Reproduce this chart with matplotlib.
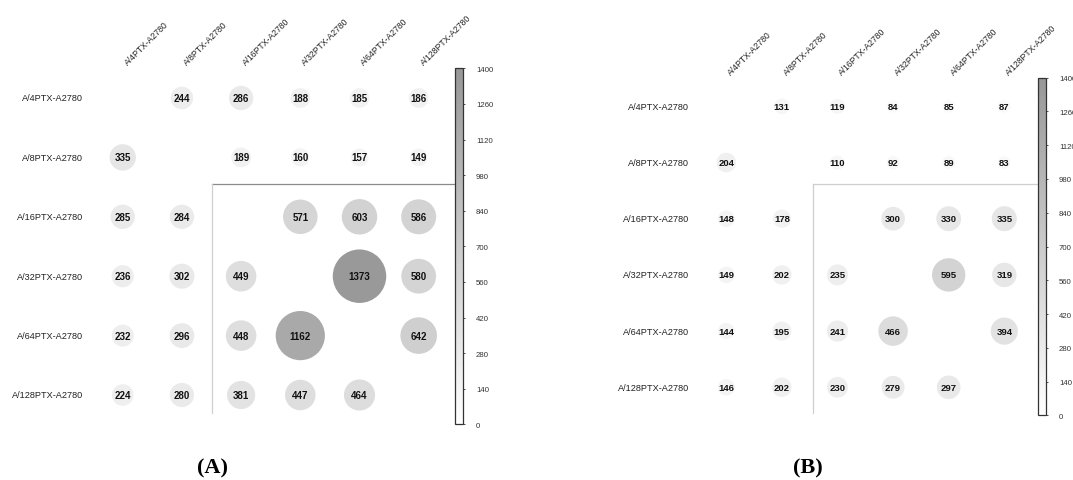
import numpy as np
import matplotlib
matplotlib.use("Agg")
import matplotlib.pyplot as plt
from matplotlib.colors import LinearSegmentedColormap, Normalize
from matplotlib.cm import ScalarMappable

plt.rcParams['font.family'] = ['Liberation Sans', 'DejaVu Sans']

# ---- data ----
labels = ["A/4PTX-A2780", "A/8PTX-A2780", "A/16PTX-A2780",
          "A/32PTX-A2780", "A/64PTX-A2780", "A/128PTX-A2780"]

nan = np.nan
values_a = [
    [nan, 244, 286, 188, 185, 186],
    [335, nan, 189, 160, 157, 149],
    [285, 284, nan, 571, 603, 586],
    [236, 302, 449, nan, 1373, 580],
    [232, 296, 448, 1162, nan, 642],
    [224, 280, 381, 447, 464, nan],
]
values_b = [
    [nan, 131, 119, 84, 85, 87],
    [204, nan, 110, 92, 89, 83],
    [148, 178, nan, 300, 330, 335],
    [149, 202, 235, nan, 595, 319],
    [144, 195, 241, 466, nan, 394],
    [146, 202, 230, 279, 297, nan],
]
cbar_ticks = list(range(0, 1401, 140))
panel_titles = ["(A)", "(B)"]

W, H = 1073, 481
fig = plt.figure(figsize=(W / 100, H / 100), dpi=100)

cmap = LinearSegmentedColormap.from_list("grey_scale", ["#ffffff", "#979797"])
norm = Normalize(vmin=0, vmax=1400)


def px_axes(x0, y0, x1, y1):
    """Axes from pixel box (top-left origin)."""
    return fig.add_axes([x0 / W, 1 - y1 / H, (x1 - x0) / W, (y1 - y0) / H])


def draw_panel(values, grid_box, cbar_box, size_scale, num_size,
               hline_row, vline_col, vline_end, hline_color, vline_color,
               title, title_xy):
    vals = np.array(values, dtype=float)
    n = vals.shape[0]
    ax = px_axes(*grid_box)
    ax.set_xlim(-0.5, n - 0.5)
    ax.set_ylim(n - 0.5, -0.5)
    ax.axis("off")

    rr, cc = np.where(~np.isnan(vals))
    v = vals[rr, cc]
    ax.scatter(cc, rr, s=v * size_scale, c=v, cmap=cmap, norm=norm,
               edgecolors="none", zorder=2)
    for r, c, val in zip(rr, cc, v):
        ax.text(c, r, f"{int(val)}", ha="center", va="center",
                fontsize=num_size, fontweight="bold", color="#111111",
                zorder=3)

    # row labels
    for i, lab in enumerate(labels):
        ax.text(-0.67, i, lab, ha="right", va="center", fontsize=6.6,
                color="#222222")
    # column labels
    for j, lab in enumerate(labels):
        ax.text(j, -0.53, lab, ha="left", va="bottom", rotation=45,
                fontsize=6.2, color="#222222")

    # separator lines
    ax.plot([vline_col, 5.62], [hline_row, hline_row], color=hline_color,
            lw=0.9, clip_on=False, zorder=1)
    ax.plot([vline_col, vline_col], [hline_row, vline_end], color=vline_color,
            lw=0.9, clip_on=False, zorder=1)

    cax = px_axes(*cbar_box)
    cb = fig.colorbar(ScalarMappable(norm=norm, cmap=cmap), cax=cax)
    cb.set_ticks(cbar_ticks)
    cb.set_ticklabels([str(t) for t in cbar_ticks])
    cb.outline.set_edgecolor("#333333")
    cb.outline.set_linewidth(0.9)
    cax.tick_params(length=1.5, width=0.6, pad=8, labelsize=5.6,
                    colors="#333333")

    fig.text(title_xy[0] / W, 1 - title_xy[1] / H, title, ha="center",
             va="center", fontsize=16, fontweight="bold",
             family=["Liberation Serif", "DejaVu Serif"])


draw_panel(values_a, (93.1, 69.3, 448.3, 425.7), (455, 69.3, 462.7, 425.3),
           1.08, 7.0, 1.45, 1.5, 5.31, "#8a8a8a", "#cfcfcf",
           panel_titles[0], (212.7, 468))
draw_panel(values_b, (698.5, 79.2, 1032.1, 416.4), (1038.3, 78.7, 1045.7, 416.3),
           0.97, 6.8, 1.39, 1.56, 5.46, "#cfcfcf", "#cfcfcf",
           panel_titles[1], (808.3, 468))

fig.savefig("out.png", dpi=100)
